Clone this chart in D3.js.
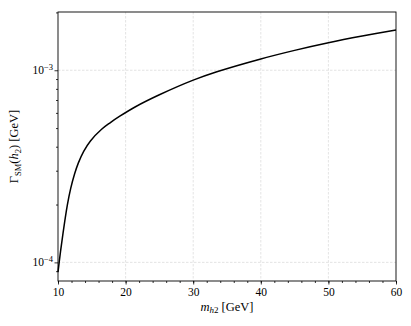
<!DOCTYPE html>
<html>
<head>
    <meta charset="utf-8">
    <title>Gamma SM h2</title>
    <style>
        body { margin: 0; background: #fff; }
        svg { display: block; }
        text { font-family: "Liberation Serif", "DejaVu Serif", serif; fill: #000; }
    </style>
    <script src="https://cdnjs.cloudflare.com/ajax/libs/d3/7.8.5/d3.min.js"></script>
</head>
<body>
    <script>
        // values
        const mass = [10, 10.37, 10.74, 11.06, 11.38, 11.88, 12.46, 13.0, 13.8, 14.8, 16.45, 17.7, 19.2, 21.4, 25, 30, 33.5, 40, 45, 50, 55, 60]
        const width_sm = [8.9e-5, 1.138e-4, 1.416e-4, 1.69e-4, 1.988e-4, 2.427e-4, 2.89e-4, 3.286e-4, 3.785e-4, 4.287e-4, 4.928e-4, 5.327e-4, 5.781e-4, 6.44e-4, 7.452e-4, 8.88e-4, 9.82e-4, 1.1452e-3, 1.269e-3, 1.39e-3, 1.506e-3, 1.62e-3]
        const x_ticks = [10, 20, 30, 40, 50, 60]
        const x_minor = d3.range(10, 60.1, 2)
        const y_major = [1e-4, 1e-3]
        const y_minor = [9e-5, 2e-4, 3e-4, 4e-4, 5e-4, 6e-4, 7e-4, 8e-4, 9e-4, 2e-3]
        const y_exp = {"0.0001": "\u22124", "0.001": "\u22123"}

        const width = 411
        const height = 326
        const margin = {left: 58, right: 15, top: 12, bottom: 45}

        let svg = d3.select("body").append("svg")
            .attr("width", width)
            .attr("height", height)

        let x_scale = d3.scaleLinear()
            .domain([10, 60])
            .range([margin.left, width - margin.right])
        let y_scale = d3.scaleLog()
            .domain([8.0e-5, 2.01e-3])
            .range([height - margin.bottom, margin.top])

        // grid
        let grid = svg.append("g")
            .attr("stroke", "#d8d8d8")
            .attr("stroke-width", 0.7)
            .attr("stroke-dasharray", "2.5,1.5")
        grid.selectAll(".gx")
            .data(x_ticks.slice(1, -1))
            .enter().append("line")
                .attr("x1", d => x_scale(d)).attr("x2", d => x_scale(d))
                .attr("y1", margin.top).attr("y2", height - margin.bottom)
        grid.selectAll(".gy")
            .data(y_major)
            .enter().append("line")
                .attr("y1", d => y_scale(d)).attr("y2", d => y_scale(d))
                .attr("x1", margin.left).attr("x2", width - margin.right)

        // curve
        let line = d3.line()
            .x(d => x_scale(d[0]))
            .y(d => y_scale(d[1]))
            .curve(d3.curveCatmullRom.alpha(0.5))
        svg.append("path")
            .attr("d", line(d3.zip(mass, width_sm)))
            .attr("fill", "none")
            .attr("stroke", "#000")
            .attr("stroke-width", 1.5)

        // axes
        let x_axis = svg.append("g")
            .attr("transform", `translate(0, ${height - margin.bottom})`)
        x_axis.call(d3.axisBottom(x_scale).tickValues(x_minor).tickSize(2).tickFormat(""))
        x_axis.call(g => g.append("g").call(d3.axisBottom(x_scale).tickValues(x_ticks).tickSize(3.5).tickPadding(3).tickFormat(d3.format("d"))))

        let y_axis = svg.append("g")
            .attr("transform", `translate(${margin.left}, 0)`)
        y_axis.call(d3.axisLeft(y_scale).tickValues(y_minor).tickSize(2).tickFormat(""))
        y_axis.call(g => g.append("g").call(d3.axisLeft(y_scale).tickValues(y_major).tickSize(3.5).tickFormat("")))

        svg.selectAll(".domain").remove()
        svg.selectAll(".tick line").attr("stroke", "#000").attr("stroke-width", 0.8)
        x_axis.selectAll("text")
            .style("font-family", "'Liberation Serif', serif")
            .attr("font-size", 11.5)
            .attr("fill", "#000")

        // y tick labels 10^n
        let ylab = svg.selectAll(".ylab")
            .data(y_major)
            .enter().append("text")
                .attr("x", margin.left - 5)
                .attr("y", d => y_scale(d) + 4)
                .attr("text-anchor", "end")
                .attr("font-size", 11.5)
        ylab.append("tspan").text("10")
        ylab.append("tspan").attr("dy", -4.5).attr("font-size", 8.5).text(d => y_exp[String(d)])

        // frame
        svg.append("rect")
            .attr("x", margin.left)
            .attr("y", margin.top)
            .attr("width", width - margin.left - margin.right)
            .attr("height", height - margin.top - margin.bottom)
            .attr("fill", "none")
            .attr("stroke", "#000")
            .attr("stroke-width", 0.9)

        // x label
        let xl = svg.append("text")
            .attr("x", (margin.left + width - margin.right) / 2)
            .attr("y", 311)
            .attr("text-anchor", "middle")
            .attr("font-size", 12.5)
        xl.append("tspan").attr("font-style", "italic").text("m")
        xl.append("tspan").attr("dy", 2).attr("font-size", 9).attr("font-style", "italic").text("h")
        xl.append("tspan").attr("font-size", 9).text("2")
        xl.append("tspan").attr("dy", -2).text(" [GeV]")

        // y label
        let yl = svg.append("text")
            .attr("transform", `translate(18, ${(margin.top + height - margin.bottom) / 2}) rotate(-90)`)
            .attr("text-anchor", "middle")
            .attr("font-size", 12.5)
        yl.append("tspan").text("\u0393")
        yl.append("tspan").attr("dy", 2.5).attr("font-size", 8.5).text("SM")
        yl.append("tspan").attr("dy", -2.5).text("(")
        yl.append("tspan").attr("font-style", "italic").text("h")
        yl.append("tspan").attr("dy", 2.5).attr("font-size", 8.5).text("2")
        yl.append("tspan").attr("dy", -2.5).text(") [GeV]")
    </script>
</body>
</html>
